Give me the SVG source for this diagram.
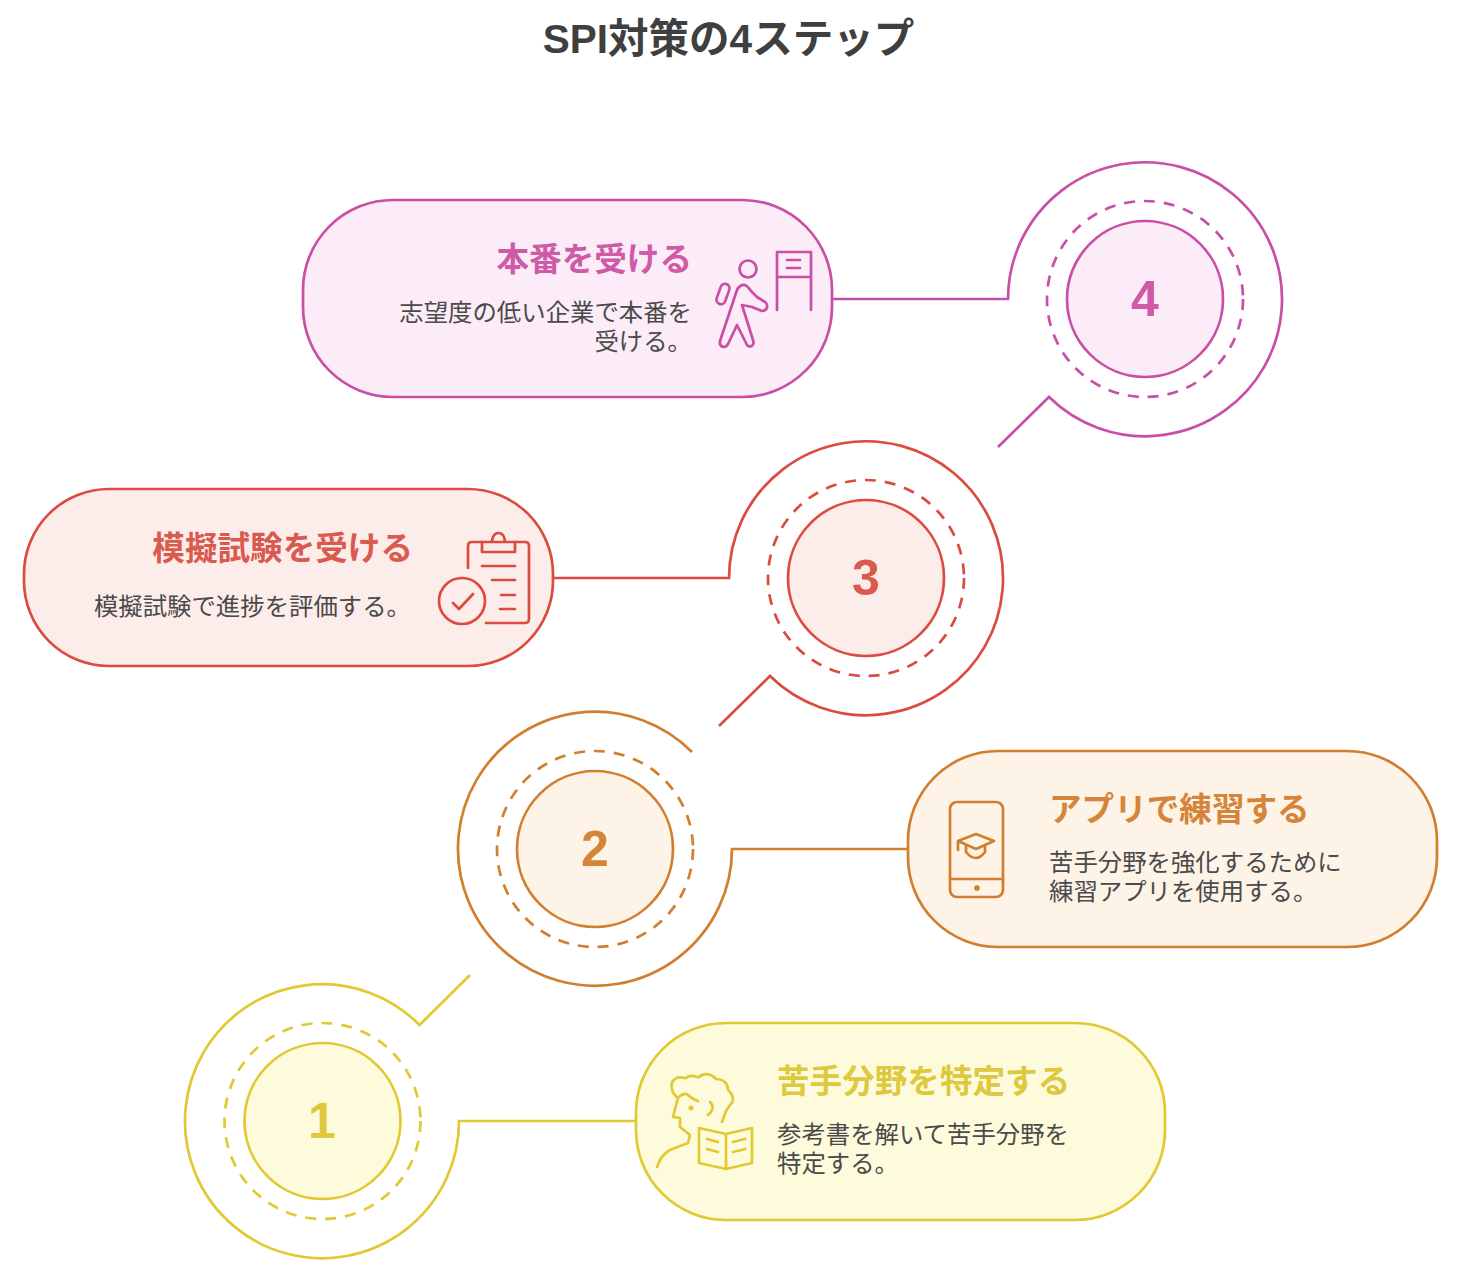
<svg xmlns="http://www.w3.org/2000/svg" width="1484" height="1288" viewBox="0 0 1484 1288">
<style>
text{font-family:"Liberation Sans","Noto Sans CJK JP",sans-serif}
.t{font-size:40.500px;font-weight:700;fill:#3f3f3f;text-anchor:middle}
.h{font-size:32.600px;font-weight:700}
.b{font-size:24.400px;fill:#4a4a4a}
.e{text-anchor:end}
.n{font-size:50px;font-weight:700;text-anchor:middle}
.g{fill:none;stroke-width:2.700}
.i{fill:none;stroke-width:2.700;stroke-linecap:round;stroke-linejoin:round}
.d{fill:none;stroke-width:2.700;stroke-dasharray:11 9}
.k{stroke-width:2.700}
.c4{stroke:#C94FA6}.c3{stroke:#DC4B40}.c2{stroke:#D27E2F}.c1{stroke:#E0C932}
.f4{fill:#FBECF7}.f3{fill:#FCEDEA}.f2{fill:#FDF3E7}.f1{fill:#FEFBDC}
.x4{fill:#CE5AA8}.x3{fill:#DB5A50}.x2{fill:#D4853A}.x1{fill:#DEC83D}
</style>
<rect width="1484" height="1288" fill="#fff"/>
<text class="t" x="728.500" y="53">SPI対策の4ステップ</text>
<g id="connectors">
<path class="g c4" d="M833 299H1008A137 137 0 1 1 1049 397L998 447"/>
<path class="g c3" d="M553 578H729A137 137 0 1 1 770 676L719 726"/>
<path class="g c2" d="M692 752A137 137 0 1 0 732 849H908"/>
<path class="g c1" d="M470 975L419.500 1025A137 137 0 1 0 459 1121H636"/>
</g>
<g id="step4">
<circle class="d c4" cx="1145" cy="299" r="98"/>
<circle class="k c4 f4" cx="1145" cy="299" r="78"/>
<text class="n x4" x="1145" y="316">4</text>
</g>
<g id="step3">
<circle class="d c3" cx="866" cy="578" r="98"/>
<circle class="k c3 f3" cx="866" cy="578" r="78"/>
<text class="n x3" x="866" y="595">3</text>
</g>
<g id="step2">
<circle class="d c2" cx="595" cy="849" r="98"/>
<circle class="k c2 f2" cx="595" cy="849" r="78"/>
<text class="n x2" x="595" y="866">2</text>
</g>
<g id="step1">
<circle class="d c1" cx="322.500" cy="1121" r="98"/>
<circle class="k c1 f1" cx="322.500" cy="1121" r="78"/>
<text class="n x1" x="322" y="1138">1</text>
</g>
<g id="card4">
<rect class="k c4 f4" x="303" y="200" width="529" height="197" rx="90" ry="90"/>
<text class="h x4 e" x="692" y="271">本番を受ける</text>
<text class="b e" x="692" y="321">志望度の低い企業で本番を</text>
<text class="b e" x="692" y="350">受ける。</text>
<g class="i c4">
<path d="M777 310V252H811V310M777 277H811M787 260H800M787 268H800"/>
<circle cx="748" cy="269" r="8.500"/>
<rect x="-4.500" y="-10.500" width="9" height="21" rx="4.500" transform="translate(723 294) rotate(20)"/>
<path d="M742 285C746 284 748 287 751 291L757 297L765 302C769 305 767 311 762 311L752 307L742 305L753 340C755 346 750 348 747 345L737 325L728 344C725 349 719 347 720 341L737 290C738 287 740 286 742 285Z"/>
</g>
</g>
<g id="card3">
<rect class="k c3 f3" x="24" y="489" width="529" height="177" rx="85" ry="85"/>
<text class="h x3 e" x="413" y="560">模擬試験を受ける</text>
<text class="b e" x="411" y="615">模擬試験で進捗を評価する。</text>
<g class="i c3">
<path d="M468 568V546Q468 542 472 542H482M515 542H525Q529 542 529 546V619Q529 623 525 623H486"/>
<rect x="482" y="542" width="33" height="10"/>
<path d="M492 541Q493 533 498.500 533Q504 533 505 541"/>
<path d="M482 566H515M492 580H515M501 595H515M500 609H515"/>
<circle cx="462" cy="601" r="23"/>
<path d="M453 603L459 609L473 594"/>
</g>
</g>
<g id="card2">
<rect class="k c2 f2" x="908" y="751" width="529" height="196" rx="90" ry="90"/>
<text class="h x2" x="1049" y="821">アプリで練習する</text>
<text class="b" x="1049" y="871">苦手分野を強化するために</text>
<text class="b" x="1049" y="900">練習アプリを使用する。</text>
<g class="i c2">
<rect x="950" y="802" width="53" height="95" rx="7"/>
<path d="M950 879H1003"/>
<circle cx="977" cy="888" r="1.500"/>
<path d="M958 841L976 834L994 841L976 849ZM958 841V850M966 845V852Q976 864 985 852V845"/>
</g>
</g>
<g id="card1">
<rect class="k c1 f1" x="636" y="1023" width="529" height="197" rx="90" ry="90"/>
<text class="h x1" x="777" y="1093">苦手分野を特定する</text>
<text class="b" x="777" y="1143">参考書を解いて苦手分野を</text>
<text class="b" x="777" y="1172">特定する。</text>
<g class="i c1">
<path d="M657 1167Q661 1155 670 1150L688 1143L690 1135L680 1127V1118L673 1117L678 1098C670 1092 670 1082 675 1079C680 1075 684 1079 686 1078C692 1073 696 1078 699 1077C704 1072 712 1074 716 1079C724 1079 728 1084 728 1090C733 1094 735 1101 730 1105L726 1111L722 1122"/>
<path d="M678 1098Q684 1092 688 1095Q692 1099 698 1101"/>
<path d="M710 1102Q716 1108 708 1115"/>
<circle cx="691" cy="1108" r="1.200"/>
<path d="M699 1128L726 1134L752 1128V1163L726 1169L699 1163ZM726 1134V1169"/>
<path d="M707 1139L718 1142M707 1149L718 1152M733 1142L745 1139M733 1152L745 1149"/>
</g>
</g>
</svg>
